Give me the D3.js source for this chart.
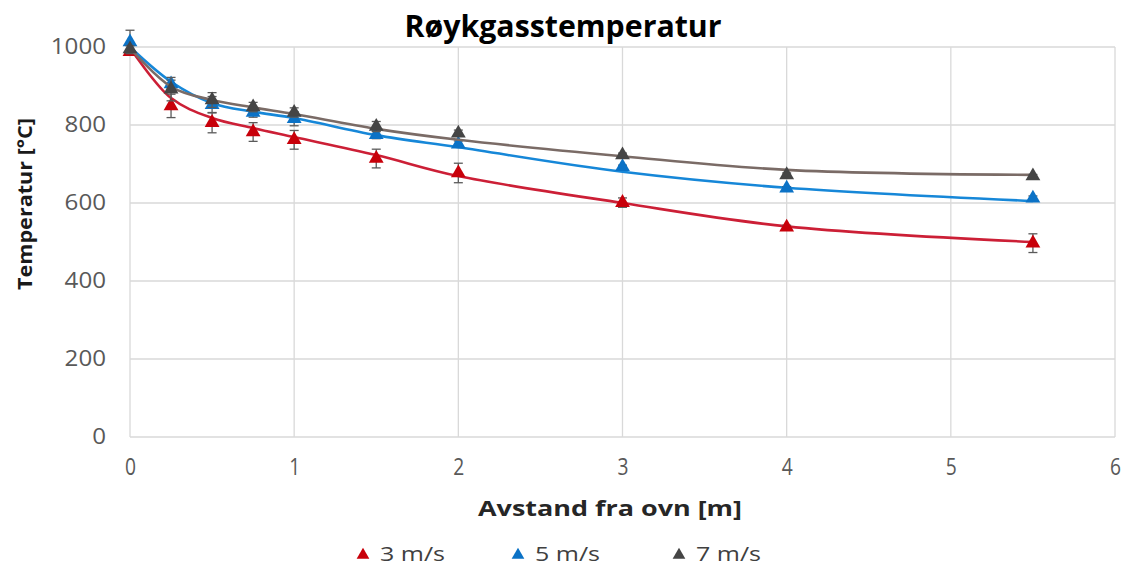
<!DOCTYPE html>
<html>
<head>
<meta charset="utf-8">
<script src="https://cdn.jsdelivr.net/npm/d3@7"></script>
<style>
  html, body { margin: 0; padding: 0; background: #fff; }
  svg { display: block; }
</style>
</head>
<body>
<svg id="chart" width="1131" height="567"></svg>
<script>
// Distance from the furnace [m]
const distances = [0, 0.25, 0.5, 0.75, 1, 1.5, 2, 3, 4, 5.5];

// Measured flue gas temperatures [°C] per air velocity
const temp3 = [988, 849, 806, 782, 762, 714, 677, 601, 538, 497];
const temp5 = [1013, 905, 852, 832, 816, 775, 751, 693, 638, 612];
const temp7 = [995, 892, 864, 846, 832, 796, 779, 723, 672, 669];

// Uncertainty (±) of each measurement [°C]
const err3 = [4, 30, 26, 24, 24, 24, 25, 12, 5, 24];
const err5 = [30, 10, 21, 12, 18, 10, 8, 4, 4, 6];
const err7 = [8, 30, 19, 12, 12, 13, 8, 5, 5, 4];

// Smoothed trend curves through the same distances [°C]
const trend3 = [998, 869, 818, 792, 769, 723, 669, 600, 540, 500];
const trend5 = [1000, 911, 856, 834, 818, 774, 743, 680, 639, 605];
const trend7 = [997, 898, 864, 845, 828, 790, 762, 720, 685, 672];

const seriesNames = ["3 m/s", "5 m/s", "7 m/s"];
const xTicks = [0, 1, 2, 3, 4, 5, 6];
const yTicks = [0, 200, 400, 600, 800, 1000];

const title = "Røykgasstemperatur";
const xTitle = "Avstand fra ovn [m]";
const yTitle = "Temperatur [°C]";

const series = [
  { name: seriesNames[0], values: temp3, errors: err3, trend: trend3, line: "#cc1f36", marker: "#c8000a" },
  { name: seriesNames[1], values: temp5, errors: err5, trend: trend5, line: "#1687d8", marker: "#0b72c6" },
  { name: seriesNames[2], values: temp7, errors: err7, trend: trend7, line: "#7a6b66", marker: "#454545" }
];

const svg = d3.select("#chart");
const x = d3.scaleLinear().domain([0, 6]).range([130, 1115]);
const y = d3.scaleLinear().domain([0, 1000]).range([437, 47]);

const gridColor = "#d9d9d9";
const textColor = "#595959";
const fmt = d3.format("d");

// Gridlines
svg.append("g")
  .selectAll("line.h")
  .data(yTicks)
  .join("line")
  .attr("x1", x(0)).attr("x2", x(6))
  .attr("y1", d => y(d)).attr("y2", d => y(d))
  .attr("stroke", gridColor).attr("stroke-width", 1.3);

svg.append("g")
  .selectAll("line.v")
  .data(xTicks)
  .join("line")
  .attr("x1", d => x(d)).attr("x2", d => x(d))
  .attr("y1", y(0)).attr("y2", y(1000))
  .attr("stroke", gridColor).attr("stroke-width", 1.3);

// Axes (labels only; lines come from the grid)
const yAxis = svg.append("g")
  .attr("transform", `translate(${x(0)},0)`)
  .call(d3.axisLeft(y).tickValues(yTicks).tickFormat(fmt).tickSize(0).tickPadding(24));
yAxis.select(".domain").remove();
yAxis.selectAll("text")
  .attr("font-family", "'Open Sans', sans-serif")
  .attr("font-size", 21)
  .attr("fill", textColor)
  .attr("lengthAdjust", "spacingAndGlyphs")
  .attr("textLength", d => fmt(d).length * 13.8);

const xAxis = svg.append("g")
  .attr("transform", `translate(0,${y(0)})`)
  .call(d3.axisBottom(x).tickValues(xTicks).tickFormat(fmt).tickSize(0).tickPadding(21));
xAxis.select(".domain").remove();
xAxis.selectAll("text")
  .attr("font-family", "'Open Sans', sans-serif")
  .attr("font-size", 24)
  .attr("fill", textColor)
  .attr("lengthAdjust", "spacingAndGlyphs")
  .attr("textLength", 11);

// Titles
svg.append("text")
  .attr("x", 563).attr("y", 37)
  .attr("text-anchor", "middle")
  .attr("font-family", "'Open Sans', sans-serif")
  .attr("font-weight", "bold")
  .attr("font-size", 31)
  .attr("fill", "#000")
  .attr("lengthAdjust", "spacingAndGlyphs")
  .attr("textLength", 317)
  .text(title);

svg.append("text")
  .attr("x", 610).attr("y", 516)
  .attr("text-anchor", "middle")
  .attr("font-family", "'Open Sans', sans-serif")
  .attr("font-weight", "bold")
  .attr("font-size", 22)
  .attr("fill", "#262626")
  .attr("lengthAdjust", "spacingAndGlyphs")
  .attr("textLength", 264)
  .text(xTitle);

svg.append("text")
  .attr("transform", "translate(32,204) rotate(-90)")
  .attr("text-anchor", "middle")
  .attr("font-family", "'Open Sans', sans-serif")
  .attr("font-weight", "bold")
  .attr("font-size", 20)
  .attr("fill", "#1a1a1a")
  .attr("lengthAdjust", "spacingAndGlyphs")
  .attr("textLength", 172)
  .text(yTitle);

// Series: trend curve, error bars, markers
const lineGen = d3.line()
  .x((d, i) => x(distances[i]))
  .y(d => y(d))
  .curve(d3.curveCatmullRom.alpha(0.5));

const triangle = d3.symbol().type(d3.symbolTriangle).size(95);

series.forEach(s => {
  const g = svg.append("g");
  g.append("path")
    .attr("d", lineGen(s.trend))
    .attr("fill", "none")
    .attr("stroke", s.line)
    .attr("stroke-width", 2.6);

  const pts = s.values.map((v, i) => ({ x: distances[i], v, e: s.errors[i] }));

  const eb = g.append("g").attr("stroke", "#5a5a5a").attr("stroke-width", 1.3);
  eb.selectAll("line.bar").data(pts).join("line")
    .attr("x1", d => x(d.x)).attr("x2", d => x(d.x))
    .attr("y1", d => y(d.v + d.e)).attr("y2", d => y(d.v - d.e));
  eb.selectAll("line.top").data(pts).join("line")
    .attr("x1", d => x(d.x) - 4.5).attr("x2", d => x(d.x) + 4.5)
    .attr("y1", d => y(d.v + d.e)).attr("y2", d => y(d.v + d.e));
  eb.selectAll("line.bot").data(pts).join("line")
    .attr("x1", d => x(d.x) - 4.5).attr("x2", d => x(d.x) + 4.5)
    .attr("y1", d => y(d.v - d.e)).attr("y2", d => y(d.v - d.e));

  g.selectAll("path.m").data(pts).join("path")
    .attr("d", triangle)
    .attr("transform", d => `translate(${x(d.x)},${y(d.v)})`)
    .attr("fill", s.marker);
});

// Legend
const legendX = [363, 518, 679];
const legend = svg.append("g");
series.forEach((s, i) => {
  legend.append("path")
    .attr("d", d3.symbol().type(d3.symbolTriangle).size(70)())
    .attr("transform", `translate(${legendX[i]},555)`)
    .attr("fill", s.marker);
  legend.append("text")
    .attr("x", legendX[i] + 17).attr("y", 561)
    .attr("font-family", "'Open Sans', sans-serif")
    .attr("font-size", 20)
    .attr("fill", "#404040")
    .attr("lengthAdjust", "spacingAndGlyphs")
    .attr("textLength", 65)
    .text(s.name);
});
</script>
</body>
</html>
